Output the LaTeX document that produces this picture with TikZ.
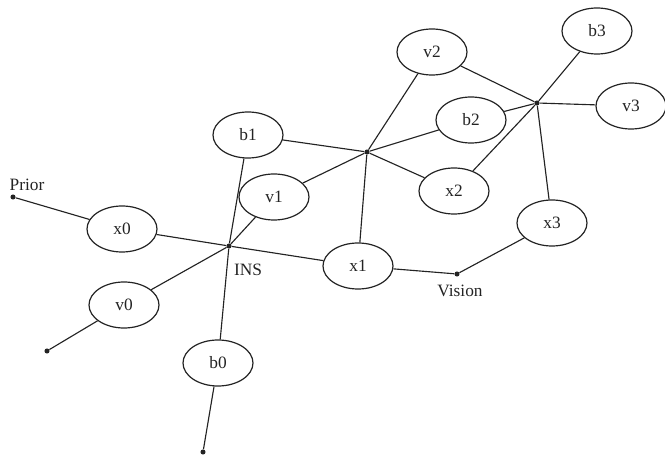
\documentclass[tikz,border=0pt]{standalone}
\usepackage{fontspec}
\setmainfont{Liberation Serif}
\usetikzlibrary{shapes.geometric}
\definecolor{ink}{RGB}{35,35,35}
\begin{document}
\begin{tikzpicture}[x=0.75pt,y=-0.75pt,
  var/.style={draw=ink, ellipse, line width=0.9pt, minimum width=52.5pt,
              minimum height=34.5pt, inner sep=0pt, text=ink,
              font=\fontsize{13}{15}\selectfont},
  junc/.style={circle, fill=ink, inner sep=0pt, minimum size=3.8pt},
  edge/.style={draw=ink, line width=0.85pt},
  lbl/.style={text=ink, inner sep=0pt, font=\fontsize{13}{15}\selectfont}]
\useasboundingbox (0,0) rectangle (665,456);

% variable nodes
\node[var] (v2) at (432,52)  {v2};
\node[var] (b3) at (597,31)  {b3};
\node[var] (v3) at (631,106) {v3};
\node[var] (b2) at (471,120) {b2};
\node[var] (b1) at (248,135) {b1};
\node[var] (x2) at (454,191) {x2};
\node[var] (v1) at (274,197) {v1};
\node[var] (x0) at (122,229) {x0};
\node[var] (x3) at (552,223) {x3};
\node[var] (x1) at (358,266) {x1};
\node[var] (v0) at (124,305) {v0};
\node[var] (b0) at (218,363) {b0};

% factor junctions
\node[junc] (J1) at (229,246) {};
\node[junc] (J2) at (367,152) {};
\node[junc] (J3) at (537,103) {};
\node[junc] (vis) at (457,274) {};
\node[junc] (pri) at (13,197) {};
\node[junc] (e0) at (47,351) {};
\node[junc] (eb) at (203,452) {};

% labels
\node[lbl] (lprior) at (27,185) {Prior};
\node[lbl] (lins) at (248,270) {INS};
\node[lbl] (lvis) at (460,291) {Vision};

% prior and open ends
\path[edge] (pri) -- (x0);
\path[edge] (e0) -- (v0);
\path[edge] (eb) -- (b0);

% INS factor
\path[edge] (x0) -- (J1);
\path[edge] (J1) -- (x1);
\path[edge] (J1) -- (v0);
\path[edge] (J1) -- (v1);
\path[edge] (J1) -- (b1);
\path[edge] (J1) -- (b0);

% second factor
\path[edge] (b1) -- (J2);
\path[edge] (v1) -- (J2);
\path[edge] (J2) -- (v2);
\path[edge] (J2) -- (b2);
\path[edge] (J2) -- (x2);
\path[edge] (J2) -- (x1);

% third factor
\path[edge] (v2) -- (J3);
\path[edge] (b2) -- (J3);
\path[edge] (J3) -- (b3);
\path[edge] (J3) -- (v3);
\path[edge] (J3) -- (x2);
\path[edge] (J3) -- (x3);

% vision factor
\path[edge] (x1) -- (vis);
\path[edge] (vis) -- (x3);
\end{tikzpicture}
\end{document}
